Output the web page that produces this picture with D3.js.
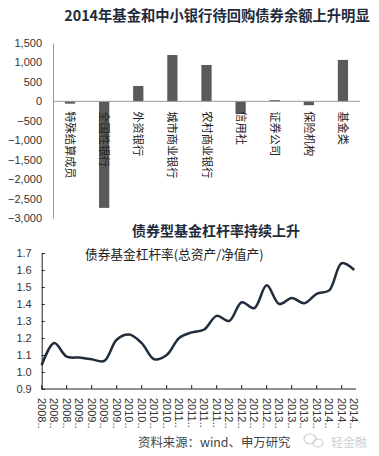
<!DOCTYPE html>
<html>
<head>
<meta charset="utf-8">
<script src="https://cdn.jsdelivr.net/npm/d3@7"></script>
<style>
  body { margin: 0; background: #fff; }
  svg { display: block; font-family: Arial, "Liberation Sans", "Noto Sans CJK SC", sans-serif; }
</style>
</head>
<body>
<div id="chart"></div>
<script>
// top chart: change in repo balance by institution type
const barCategories = ["特殊结算成员", "全国性银行", "外资银行", "城市商业银行", "农村商业银行", "信用社", "证券公司", "保险机构", "基金类"];
const barValues = [-60, -2740, 395, 1190, 935, -310, 30, -100, 1065];
const barTicks = [1500, 1000, 500, 0, -500, -1000, -1500, -2000, -2500, -3000];

// bottom chart: bond fund leverage, quarterly
const lineLabels = ["2008", "2008", "2008",
  "2009", "2009", "2009", "2009",
  "2010", "2010", "2010", "2010",
  "2011", "2011", "2011", "2011",
  "2012", "2012", "2012", "2012",
  "2013", "2013", "2013", "2013",
  "2014", "2014", "2014"];
const lineValues = [1.04, 1.17, 1.09, 1.085, 1.075, 1.065, 1.19, 1.22, 1.17, 1.075, 1.10, 1.20, 1.233,
  1.25, 1.33, 1.30, 1.41, 1.375, 1.51, 1.40, 1.435, 1.405, 1.46, 1.48, 1.64, 1.60];
const lineTicks = [0.9, 1.0, 1.1, 1.2, 1.3, 1.4, 1.5, 1.6, 1.7];

const width = 379, height = 456;
const cjk = "'Noto Sans CJK SC', sans-serif";

const svg = d3.select("#chart").append("svg")
    .attr("width", width)
    .attr("height", height);

// ---------- top bar chart ----------
svg.append("text")
    .attr("x", 217).attr("y", 21)
    .attr("text-anchor", "middle")
    .attr("font-family", cjk)
    .attr("font-size", 14.3).attr("font-weight", "bold")
    .attr("fill", "#1e2b3a")
    .text("2014年基金和中小银行待回购债券余额上升明显");

const x1 = d3.scaleBand()
    .domain(barCategories)
    .range([53, 360])
    .paddingInner(0.7)
    .paddingOuter(0.35);

const y1 = d3.scaleLinear()
    .domain([-3000, 1500])
    .range([218, 43]);

const yAxis1 = svg.append("g")
    .attr("transform", "translate(53,0)")
    .call(d3.axisLeft(y1).tickValues(barTicks).tickSize(0).tickPadding(11).tickFormat(d3.format(",")));
yAxis1.select(".domain").attr("stroke", "#999");
yAxis1.selectAll("text").attr("font-size", 11).attr("fill", "#333");

svg.selectAll("rect.bar")
    .data(barValues)
    .enter()
    .append("rect")
    .attr("class", "bar")
    .attr("x", (d, i) => x1(barCategories[i]))
    .attr("y", d => y1(Math.max(0, d)))
    .attr("width", x1.bandwidth())
    .attr("height", d => Math.abs(y1(d) - y1(0)))
    .attr("fill", "#5a5a5a");

// zero line
svg.append("line")
    .attr("x1", 53).attr("x2", 360)
    .attr("y1", y1(0)).attr("y2", y1(0))
    .attr("stroke", "#999");

svg.selectAll("text.cat")
    .data(barCategories)
    .enter()
    .append("text")
    .attr("class", "cat")
    .attr("transform", d => `translate(${x1(d) + x1.bandwidth() / 2 - 4},${y1(0) + 10}) rotate(90)`)
    .attr("font-family", cjk)
    .attr("font-size", 11.2)
    .attr("fill", "#222")
    .text(d => d);

// ---------- bottom line chart ----------
svg.append("text")
    .attr("x", 216).attr("y", 236)
    .attr("text-anchor", "middle")
    .attr("font-family", cjk)
    .attr("font-size", 14).attr("font-weight", "bold")
    .attr("fill", "#1e2b3a")
    .text("债券型基金杠杆率持续上升");

const x2 = d3.scalePoint()
    .domain(d3.range(lineValues.length))
    .range([41.7, 354.2]);

const y2 = d3.scaleLinear()
    .domain([0.9, 1.7])
    .range([389, 253]);

const yAxis2 = svg.append("g")
    .attr("transform", "translate(41.7,0)")
    .call(d3.axisRight(y2).tickValues(lineTicks).tickSize(3).tickFormat(d3.format(".1f")));
yAxis2.select(".domain").attr("stroke", "#222");
yAxis2.selectAll(".tick line").attr("stroke", "#222");
yAxis2.selectAll("text")
    .attr("x", -10)
    .attr("text-anchor", "end")
    .attr("font-size", 11)
    .attr("fill", "#333");

// x axis line and inner ticks every other label
svg.append("line")
    .attr("x1", 41.7).attr("x2", 356)
    .attr("y1", 389).attr("y2", 389)
    .attr("stroke", "#222");
svg.selectAll("line.xtick")
    .data(d3.range(0, lineValues.length, 2))
    .enter()
    .append("line")
    .attr("class", "xtick")
    .attr("x1", d => x2(d)).attr("x2", d => x2(d))
    .attr("y1", 385).attr("y2", 389)
    .attr("stroke", "#222");

svg.selectAll("text.xlab")
    .data(lineLabels)
    .enter()
    .append("text")
    .attr("class", "xlab")
    .attr("transform", (d, i) => `translate(${x2(i) - 4},398) rotate(90)`)
    .attr("font-size", 11)
    .attr("fill", "#333")
    .text(d => d + "..");

const line = d3.line()
    .x((d, i) => x2(i))
    .y(d => y2(d))
    .curve(d3.curveCatmullRom.alpha(0.5));

svg.append("path")
    .datum(lineValues)
    .attr("fill", "none")
    .attr("stroke", "#1f2d3c")
    .attr("stroke-width", 2.5)
    .attr("d", line);

svg.append("text")
    .attr("x", 85).attr("y", 259)
    .attr("font-family", cjk)
    .attr("font-size", 12.7)
    .attr("fill", "#222")
    .text("债券基金杠杆率(总资产/净值产)");

// source + watermark
svg.append("text")
    .attr("x", 138).attr("y", 447)
    .attr("font-family", cjk)
    .attr("font-size", 12.4)
    .attr("fill", "#444")
    .text("资料来源：wind、申万研究");

const wm = svg.append("g").attr("fill", "none").attr("stroke", "#d0d0d0").attr("stroke-width", 1.2);
wm.append("ellipse").attr("cx", 310).attr("cy", 439).attr("rx", 6).attr("ry", 5);
wm.append("ellipse").attr("cx", 318).attr("cy", 443).attr("rx", 5).attr("ry", 4);
svg.append("text")
    .attr("x", 331).attr("y", 447)
    .attr("font-family", cjk)
    .attr("font-size", 12)
    .attr("fill", "#cfcfcf")
    .text("轻金融");
</script>
</body>
</html>
